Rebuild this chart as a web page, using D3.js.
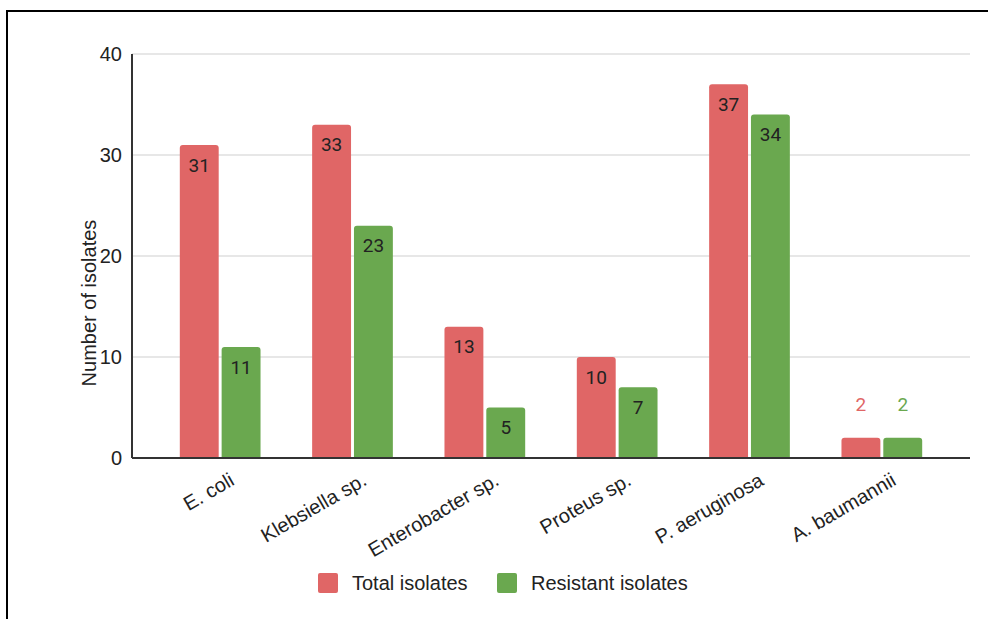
<!DOCTYPE html>
<html><head><meta charset="utf-8">
<script src="https://cdn.jsdelivr.net/npm/d3@7"></script>
<style>body{margin:0;background:#fff;} svg{display:block;}</style>
</head><body>
<svg id="c" width="988" height="619"></svg>
<script>
const categories = ["E. coli","Klebsiella sp.","Enterobacter sp.","Proteus sp.","P. aeruginosa","A. baumannii"];
const seriesNames = ["Total isolates","Resistant isolates"];
const totalIsolates = [31,33,13,10,37,2];
const resistantIsolates = [11,23,5,7,34,2];
const yTicks = [0,10,20,30,40];
const colors = ["#e06666","#6aa84f"];

const FONT = "Liberation Sans, Arial, sans-serif";
const svg = d3.select("#c");
// outer border
svg.append("rect").attr("x",7).attr("y",11).attr("width",990).attr("height",640)
  .attr("fill","none").attr("stroke","#000").attr("stroke-width",2);

const y = d3.scaleLinear().domain([0,40]).range([458,54]);
const x = d3.scaleBand().domain(categories).range([154,948]).paddingInner(0.39).paddingOuter(0.195);
const xi = d3.scaleBand().domain([0,1]).range([0,x.bandwidth()]).paddingInner(0.07);
const axL = 132, axR = 970;

// grid
svg.append("g").selectAll("line").data(yTicks.filter(d=>d>0)).join("line")
  .attr("x1",axL).attr("x2",axR).attr("y1",d=>y(d)).attr("y2",d=>y(d))
  .attr("stroke","#d0d0d0").attr("stroke-width",1.2);

// y tick labels
svg.append("g").selectAll("text").data(yTicks).join("text")
  .attr("x",122).attr("y",d=>y(d)).attr("dy","0.35em").attr("text-anchor","end")
  .attr("font-family",FONT).attr("font-size",20).attr("fill","#222")
  .text(d=>d);

// y axis title
svg.append("text").attr("transform","translate(89,303) rotate(-90)")
  .attr("text-anchor","middle").attr("dy","0.35em").attr("font-family",FONT)
  .attr("font-size",20).attr("fill","#222").text("Number of isolates");

// bars
const data = categories.map((c,i)=>({c, vals:[totalIsolates[i], resistantIsolates[i]]}));
function barPath(x0,w,yTop,yBot,r){
  r=Math.min(r,w/2,(yBot-yTop));
  return `M${x0},${yBot}V${yTop+r}Q${x0},${yTop} ${x0+r},${yTop}H${x0+w-r}Q${x0+w},${yTop} ${x0+w},${yTop+r}V${yBot}Z`;
}
const g = svg.append("g");
data.forEach(d=>{
  d.vals.forEach((v,s)=>{
    const bx = x(d.c)+xi(s), bw = xi.bandwidth();
    g.append("path").attr("d",barPath(bx,bw,y(v),y(0),3)).attr("fill",colors[s]);
    const inside = (y(0)-y(v))>30;
    g.append("text").attr("x",bx+bw/2)
      .attr("y", inside ? y(v)+20 : y(v)-33)
      .attr("dy","0.35em").attr("text-anchor","middle")
      .attr("font-family","Roboto, sans-serif").attr("font-size",19)
      .attr("fill", inside ? "#222" : colors[s]).text(v);
  });
});

// x axis baseline and y axis line
svg.append("line").attr("x1",axL).attr("x2",axR).attr("y1",y(0)).attr("y2",y(0)).attr("stroke","#333").attr("stroke-width",2);
svg.append("line").attr("x1",axL).attr("x2",axL).attr("y1",y(40)).attr("y2",y(0)).attr("stroke","#333").attr("stroke-width",2);

// x tick labels
svg.append("g").selectAll("text").data(categories).join("text")
  .attr("transform",d=>`translate(${x(d)+x.bandwidth()/2+12},${478}) rotate(-30)`)
  .attr("text-anchor","end").attr("dy","0.35em")
  .attr("font-family",FONT).attr("font-size",20).attr("fill","#222")
  .text(d=>d);

// legend
const leg = svg.append("g");
const legX = [318, 497];
seriesNames.forEach((n,i)=>{
  leg.append("rect").attr("x",legX[i]).attr("y",573).attr("width",20).attr("height",20).attr("rx",2)
    .attr("fill",colors[i]);
  leg.append("text").attr("x",legX[i]+34).attr("y",583).attr("dy","0.35em")
    .attr("font-family",FONT).attr("font-size",20).attr("fill","#222").text(n);
});
</script>
</body></html>
